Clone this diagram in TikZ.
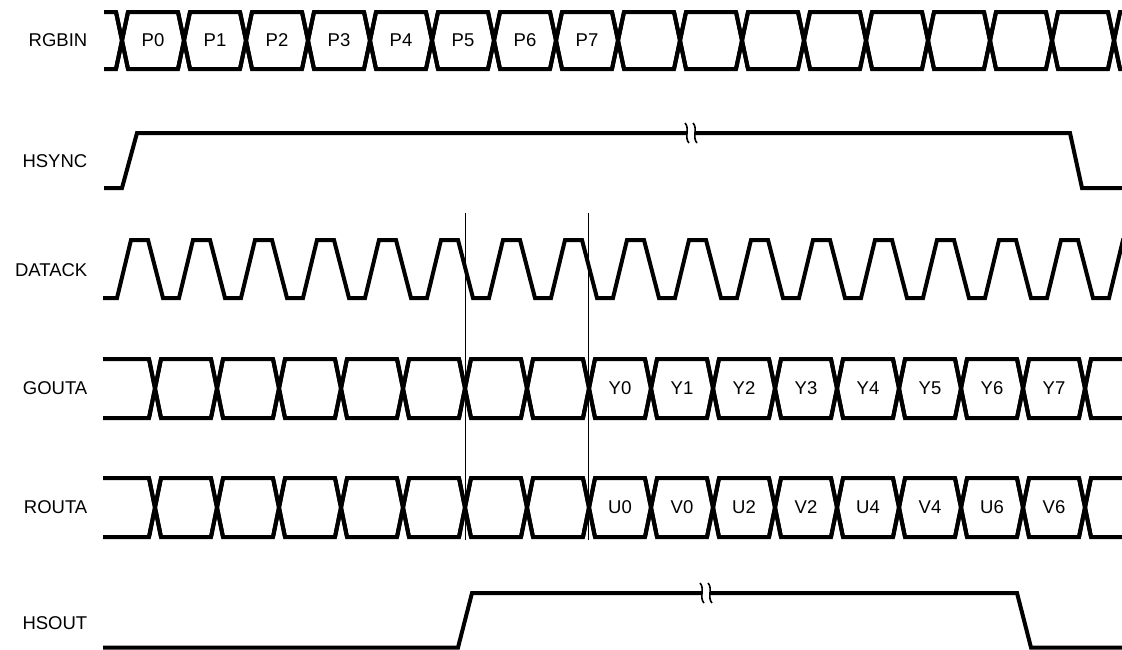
\documentclass[tikz,border=0pt]{standalone}
\usepackage{fontspec}
\setmainfont{Liberation Sans}
\newcommand\drawbus[5]{%
  \draw[sig] (#5,#3) -- ({#1-6},#3) -- ({#1+6},#4);
  \draw[sig] (#5,#4) -- ({#1-6},#4) -- ({#1+6},#3);
  \foreach \k in {0,...,#2}{%
    \pgfmathsetmacro\ca{#1+62*\k}\pgfmathsetmacro\cb{\ca+62}%
    \draw[sig] ({\ca-6},#4) -- ({\ca+6},#3) -- ({\cb-6},#3) -- ({\cb+6},#4);
    \draw[sig] ({\ca-6},#3) -- ({\ca+6},#4) -- ({\cb-6},#4) -- ({\cb+6},#3);
  }}
\newcommand\brkmark[2]{%
  \fill[white] ({#1-4},{#2-4}) rectangle ({#1+4},{#2+4});
  \draw[brk] ({#1-6},{#2-10}) .. controls ({#1-1},{#2-5}) and ({#1-7},{#2+5}) .. ({#1-2},{#2+10});
  \draw[brk] ({#1+2},{#2-10}) .. controls ({#1+7},{#2-5}) and ({#1+1},{#2+5}) .. ({#1+6},{#2+10});}
\begin{document}
\begin{tikzpicture}[x=1pt,y=-1pt,
  sig/.style={line width=4pt,line join=miter},
  brk/.style={line width=1.6pt},
  guide/.style={line width=1pt},
  siglabel/.style={anchor=east,inner sep=0pt,font=\fontsize{18.5}{20}\selectfont},
  boxlabel/.style={inner sep=0pt,font=\fontsize{18.5}{20}\selectfont}]
\useasboundingbox (0,0) rectangle (1122,649);
\clip (0,0) rectangle (1122,649);
\fill[white] (0,0) rectangle (1122,649);

% signal names
\node[siglabel] (lrgb) at (87.5,40.5) {RGBIN};
\node[siglabel] (lhs) at (87.5,161) {HSYNC};
\node[siglabel] (ldck) at (87.5,270) {DATACK};
\node[siglabel] (lgo) at (87.5,388) {GOUTA};
\node[siglabel] (lro) at (87.5,507.5) {ROUTA};
\node[siglabel] (lhso) at (87.5,623) {HSOUT};

% RGBIN bus
\drawbus{122}{16}{12}{69}{104}
\foreach \k in {0,...,7}{
  \node[boxlabel] (p\k) at ({153+62*\k},40.5) {P\k};
}

% HSYNC
\draw[sig] (104,188) -- (122,188) -- (137,133) -- (1070,133) -- (1082,188) -- (1130,188);
\brkmark{691}{133}

% DATACK
\draw[sig] (103,298) \foreach \k in {0,...,16}{
  -- ({117+62*\k},298) -- ({131+62*\k},240) -- ({148+62*\k},240) -- ({163+62*\k},298)};

% GOUTA bus
\drawbus{155}{15}{359}{418}{103}
\foreach \k in {0,...,7}{
  \node[boxlabel] (y\k) at ({620+62*\k},388.5) {Y\k};
}

% ROUTA bus
\drawbus{155}{15}{478}{537}{103}
\foreach \t [count=\i from 0] in {U0,V0,U2,V2,U4,V4,U6,V6}{
  \node[boxlabel] (r\i) at ({620+62*\i},507.5) {\t};
}

% HSOUT
\draw[sig] (103,647.5) -- (458,647.5) -- (472,593) -- (1017,593) -- (1031,647.5) -- (1130,647.5);
\brkmark{706}{593}

% guide lines
\coordinate (g1t) at (465,213);
\coordinate (g1b) at (465,540);
\coordinate (g2t) at (588,213);
\coordinate (g2b) at (588,540);
\draw[guide] (g1t) -- (g1b);
\draw[guide] (g2t) -- (g2b);
\end{tikzpicture}
\end{document}
